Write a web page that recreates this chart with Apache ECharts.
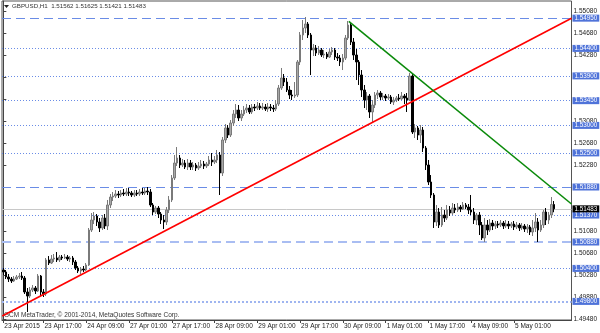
<!DOCTYPE html>
<html><head><meta charset="utf-8">
<script src="https://cdn.jsdelivr.net/npm/echarts@6/dist/echarts.min.js"></script>
<style>html,body{margin:0;padding:0;background:#fff}#c{width:600px;height:333px}</style>
</head><body><div id="c"></div>
<script>
// ---- data (GBPUSD H1, 23 Apr 2015 02:00 .. 5 May 2015 16:00) ----
const opens = [1.50371,1.50335,1.50244,1.50207,1.50171,1.50207,1.50244,1.50262,1.50225,1.49971,
1.49898,1.50007,1.50044,1.49989,1.50262,1.49971,1.49935,1.50553,1.50498,1.50571,
1.50589,1.50553,1.50607,1.50589,1.50607,1.50571,1.50589,1.50516,1.50407,1.50353,
1.50389,1.50371,1.50462,1.51098,1.51280,1.51353,1.51244,1.51135,1.51316,1.51171,
1.51553,1.51698,1.51716,1.51753,1.51735,1.51771,1.51753,1.51789,1.51771,1.51735,
1.51771,1.51753,1.51789,1.51771,1.51807,1.51789,1.51553,1.51425,1.51498,1.51389,
1.51280,1.51244,1.51462,1.51644,1.52044,1.52316,1.52407,1.52280,1.52316,1.52244,
1.52316,1.52244,1.52280,1.52225,1.52262,1.52298,1.52262,1.52298,1.52371,1.52335,
1.52371,1.52462,1.52135,1.52735,1.52953,1.52825,1.53044,1.53207,1.53280,1.53135,
1.53207,1.53280,1.53316,1.53244,1.53335,1.53316,1.53353,1.53316,1.53335,1.53298,
1.53335,1.53316,1.53298,1.53389,1.53680,1.53862,1.53789,1.53644,1.53553,1.53535,
1.53553,1.54153,1.54644,1.54771,1.54844,1.54644,1.54371,1.54407,1.54316,1.54371,
1.54280,1.54298,1.54244,1.54335,1.54371,1.54244,1.54225,1.54153,1.54225,1.54589,
1.54825,1.54516,1.54280,1.54153,1.53916,1.53644,1.53462,1.53535,1.53244,1.53371,
1.53553,1.53589,1.53516,1.53535,1.53498,1.53516,1.53425,1.53462,1.53498,1.53480,
1.53535,1.53498,1.53462,1.53898,1.52880,1.52953,1.52825,1.52916,1.52589,1.52280,
1.51971,1.51735,1.51244,1.51425,1.51189,1.51371,1.51316,1.51462,1.51407,1.51498,
1.51462,1.51516,1.51480,1.51553,1.51516,1.51462,1.51425,1.51280,1.51371,1.51189,
1.50953,1.51189,1.51098,1.51225,1.51171,1.51207,1.51189,1.51225,1.51171,1.51207,
1.51171,1.51207,1.51153,1.51189,1.51135,1.51171,1.51116,1.51153,1.51062,1.51135,
1.51244,1.51098,1.51189,1.51425,1.51280,1.51371,1.51562];
const closes = [1.50335,1.50244,1.50207,1.50171,1.50207,1.50244,1.50262,1.50225,1.49971,1.49898,
1.50007,1.50044,1.49989,1.50262,1.49971,1.49935,1.50553,1.50498,1.50571,1.50589,
1.50553,1.50607,1.50589,1.50607,1.50571,1.50589,1.50516,1.50407,1.50353,1.50389,
1.50371,1.50462,1.51098,1.51280,1.51353,1.51244,1.51135,1.51316,1.51171,1.51553,
1.51698,1.51716,1.51753,1.51735,1.51771,1.51753,1.51789,1.51771,1.51735,1.51771,
1.51753,1.51789,1.51771,1.51807,1.51789,1.51553,1.51425,1.51498,1.51389,1.51280,
1.51244,1.51462,1.51644,1.52044,1.52316,1.52407,1.52280,1.52316,1.52244,1.52316,
1.52244,1.52280,1.52225,1.52262,1.52298,1.52262,1.52298,1.52371,1.52335,1.52371,
1.52462,1.52135,1.52735,1.52953,1.52825,1.53044,1.53207,1.53280,1.53135,1.53207,
1.53280,1.53316,1.53244,1.53335,1.53316,1.53353,1.53316,1.53335,1.53298,1.53335,
1.53316,1.53298,1.53389,1.53680,1.53862,1.53789,1.53644,1.53553,1.53535,1.53553,
1.54153,1.54644,1.54771,1.54844,1.54644,1.54371,1.54407,1.54316,1.54371,1.54280,
1.54298,1.54244,1.54335,1.54371,1.54244,1.54225,1.54153,1.54225,1.54589,1.54825,
1.54516,1.54280,1.54153,1.53916,1.53644,1.53462,1.53535,1.53244,1.53371,1.53553,
1.53589,1.53516,1.53535,1.53498,1.53516,1.53425,1.53462,1.53498,1.53480,1.53535,
1.53498,1.53462,1.53898,1.52880,1.52953,1.52825,1.52916,1.52589,1.52280,1.51971,
1.51735,1.51244,1.51425,1.51189,1.51371,1.51316,1.51462,1.51407,1.51498,1.51462,
1.51516,1.51480,1.51553,1.51516,1.51462,1.51425,1.51280,1.51371,1.51189,1.50953,
1.51189,1.51098,1.51225,1.51171,1.51207,1.51189,1.51225,1.51171,1.51207,1.51171,
1.51207,1.51153,1.51189,1.51135,1.51171,1.51116,1.51153,1.51062,1.51135,1.51244,
1.51098,1.51189,1.51425,1.51280,1.51371,1.51562,1.51483];
const highs = [1.50407,1.50371,1.50298,1.50244,1.50262,1.50280,1.50316,1.50335,1.50262,1.50044,
1.50062,1.50098,1.50080,1.50298,1.50280,1.50025,1.50589,1.50625,1.50644,1.50662,
1.50698,1.50644,1.50644,1.50662,1.50644,1.50625,1.50625,1.50553,1.50444,1.50425,
1.50444,1.50498,1.51135,1.51407,1.51425,1.51389,1.51316,1.51371,1.51389,1.51644,
1.51753,1.51789,1.51825,1.51807,1.51825,1.51844,1.51862,1.51862,1.51807,1.51825,
1.51825,1.51844,1.51862,1.51862,1.51880,1.51844,1.51589,1.51535,1.51535,1.51425,
1.51371,1.51516,1.51716,1.52098,1.52462,1.52607,1.52462,1.52389,1.52371,1.52389,
1.52371,1.52335,1.52316,1.52335,1.52371,1.52353,1.52335,1.52444,1.52498,1.52444,
1.52553,1.52516,1.52789,1.53025,1.53007,1.53098,1.53280,1.53389,1.53371,1.53280,
1.53353,1.53389,1.53371,1.53389,1.53389,1.53425,1.53407,1.53407,1.53389,1.53407,
1.53389,1.53371,1.53462,1.53735,1.54044,1.53935,1.53862,1.53716,1.53644,1.53789,
1.54189,1.54698,1.54916,1.54971,1.54880,1.54680,1.54480,1.54462,1.54444,1.54407,
1.54371,1.54335,1.54389,1.54425,1.54407,1.54316,1.54280,1.54298,1.54644,1.54898,
1.54862,1.54589,1.54389,1.54189,1.54007,1.53735,1.53607,1.53571,1.53462,1.53607,
1.53644,1.53625,1.53589,1.53571,1.53571,1.53553,1.53516,1.53535,1.53571,1.53607,
1.53571,1.53589,1.53953,1.53935,1.53025,1.52989,1.53007,1.52971,1.52625,1.52371,
1.52098,1.51771,1.51553,1.51498,1.51516,1.51462,1.51553,1.51535,1.51589,1.51571,
1.51589,1.51553,1.51607,1.51589,1.51571,1.51735,1.51498,1.51407,1.51425,1.51244,
1.51316,1.51280,1.51298,1.51280,1.51262,1.51262,1.51280,1.51262,1.51280,1.51262,
1.51244,1.51262,1.51244,1.51225,1.51225,1.51207,1.51207,1.51189,1.51280,1.51407,
1.51316,1.51280,1.51462,1.51498,1.51425,1.51698,1.51625];
const lows = [1.50280,1.50207,1.50153,1.50135,1.50153,1.50189,1.50207,1.50189,1.49935,1.49607,
1.49862,1.49971,1.49935,1.49971,1.49898,1.49880,1.49898,1.50462,1.50480,1.50516,
1.50516,1.50516,1.50553,1.50571,1.50535,1.50516,1.50462,1.50371,1.50316,1.50298,
1.50335,1.50353,1.50444,1.51062,1.51207,1.51171,1.51062,1.51098,1.51116,1.51098,
1.51498,1.51625,1.51680,1.51680,1.51698,1.51716,1.51716,1.51716,1.51698,1.51698,
1.51716,1.51716,1.51735,1.51735,1.51735,1.51516,1.51371,1.51389,1.51316,1.51207,
1.51116,1.51189,1.51407,1.51607,1.52007,1.52262,1.52225,1.52244,1.52207,1.52189,
1.52189,1.52189,1.52171,1.52189,1.52225,1.52207,1.52225,1.52262,1.52262,1.52298,
1.52316,1.51735,1.52080,1.52680,1.52771,1.52789,1.52989,1.53135,1.53080,1.53080,
1.53171,1.53225,1.53207,1.53207,1.53262,1.53280,1.53280,1.53280,1.53262,1.53244,
1.53262,1.53244,1.53262,1.53353,1.53644,1.53716,1.53607,1.53480,1.53462,1.53498,
1.53516,1.54098,1.54553,1.54680,1.54589,1.53916,1.54262,1.54262,1.54280,1.54244,
1.54225,1.54207,1.54225,1.54280,1.54189,1.54171,1.54080,1.54007,1.54189,1.54553,
1.54462,1.54189,1.53825,1.53735,1.53516,1.53316,1.53280,1.53135,1.53044,1.53316,
1.53480,1.53462,1.53462,1.53444,1.53462,1.53389,1.53371,1.53425,1.53444,1.53462,
1.53389,1.53244,1.53444,1.52844,1.52771,1.52735,1.52680,1.52516,1.52189,1.51916,
1.51680,1.51135,1.51171,1.51135,1.51153,1.51244,1.51280,1.51353,1.51371,1.51407,
1.51425,1.51425,1.51462,1.51480,1.51389,1.51371,1.51207,1.51189,1.51007,1.50916,
1.50880,1.51007,1.51062,1.51098,1.51116,1.51135,1.51153,1.51116,1.51135,1.51116,
1.51135,1.51098,1.51116,1.51080,1.51098,1.51062,1.51044,1.51007,1.50989,1.51062,
1.50880,1.51062,1.51135,1.51189,1.51207,1.51316,1.51421];
const emptyBarsRight = 6;
const xTickLabels = ['23 Apr 2015','23 Apr 17:00','24 Apr 09:00','27 Apr 01:00','27 Apr 17:00','28 Apr 09:00','29 Apr 01:00','29 Apr 17:00','30 Apr 09:00','1 May 01:00','1 May 17:00','4 May 09:00','5 May 01:00'];
const yTickValues = [1.49480,1.49880,1.50280,1.50680,1.51080,1.51480,1.51880,1.52280,1.52680,1.53080,1.53480,1.53880,1.54280,1.54680,1.55080];
const yLabelValues = [1.49480,1.49880,1.50280,1.50680,1.51080,1.52280,1.52680,1.53080,1.54280,1.54680,1.55080];
const levelPrices = [1.54950,1.54400,1.53900,1.53450,1.53000,1.52500,1.51880,1.51370,1.50880,1.50400,1.49800];
const levelKinds  = ['dash','dot','dot','dot','dot','dot','dash','dot','dash2','dot','dot2'];
const bidPrice = 1.51483;
const redTrend = [[-0.4,1.49535],[212.5,1.54947]];
const greenTrend = [[129.2,1.54893],[212.5,1.51571]];
const headerText = 'GBPUSD,H1  1.51562 1.51625 1.51421 1.51483';
const footerText = 'GCM MetaTrader, \u00a9 2001-2014, MetaQuotes Software Corp.';

// ---- categories: hourly, weekdays only ----
const months = ['Jan','Feb','Mar','Apr','May','Jun','Jul','Aug','Sep','Oct','Nov','Dec'];
const cats = [];
{
  let t = Date.UTC(2015,3,23,2);
  const total = opens.length + emptyBarsRight;
  while (cats.length < total) {
    const d = new Date(t);
    const wd = d.getUTCDay();
    if (wd !== 0 && wd !== 6) {
      const hh = String(d.getUTCHours()).padStart(2,'0');
      cats.push(d.getUTCDate() + ' ' + months[d.getUTCMonth()] + ' ' + hh + ':00');
    }
    t += 3600000;
  }
}
const candleData = opens.map((o,i)=>[o, closes[i], lows[i], highs[i]]);
const showIdx = new Set();
cats.forEach((c,i)=>{ if (i===0 || xTickLabels.indexOf(c) >= 0) showIdx.add(i); });

const FONT = 'Liberation Sans';
const lvlColor = '#6a8ce6';
function levelLine(p, kind) {
  let ls;
  if (kind === 'dash') ls = {color: lvlColor, width: 1, type: [9,5]};
  else if (kind === 'dash2') ls = {color: '#a9bdf2', width: 2, type: [9,5]};
  else if (kind === 'dot2') ls = {color: '#9fb5f0', width: 2, type: [2,2]};
  else ls = {color: lvlColor, width: 1, type: [1,2]};
  return {yAxis: p, lineStyle: ls,
    label: {show: true, position: 'end', distance: 1, formatter: p.toFixed(5),
      backgroundColor: '#4f73d9', color: '#fff', fontSize: 6.3, lineHeight: 7, fontFamily: FONT,
      padding: [0,2,0,2]}};
}
const markData = levelPrices.map((p,i)=>levelLine(p, levelKinds[i]));
markData.push({yAxis: bidPrice, lineStyle: {color: '#c8c8c8', width: 1, type: 'solid'},
  label: {show: true, position: 'end', distance: 1, formatter: bidPrice.toFixed(5),
    backgroundColor: '#000', color: '#fff', fontSize: 6.3, lineHeight: 7, fontFamily: FONT, padding: [0,2,0,2]}});

const chart = echarts.init(document.getElementById('c'), null, {renderer: 'canvas'});
chart.setOption({
  animation: false,
  backgroundColor: '#ffffff',
  textStyle: {fontFamily: FONT},
  grid: {left: 2, right: 28, top: 1, bottom: 13, show: true, borderColor: '#555', borderWidth: 1},
  xAxis: [{
    type: 'category', data: cats, boundaryGap: true,
    axisLine: {show: true, lineStyle: {color: '#444'}},
    axisTick: {show: true, alignWithLabel: true, length: 3, interval: (i)=>showIdx.has(i), lineStyle: {color: '#444'}},
    axisLabel: {interval: (i)=>showIdx.has(i), formatter: (v,i)=> i===0 ? xTickLabels[0] : v,
      align: 'left', margin: 3, fontSize: 6.5, color: '#222', fontFamily: FONT, padding: [0,0,0,1]},
    splitLine: {show: false}
  },{
    type: 'value', min: -0.5, max: opens.length + emptyBarsRight - 0.5, show: false
  }],
  yAxis: [{
    type: 'value', position: 'right', min: 1.49462, max: 1.55262, scale: true,
    axisLine: {show: true, lineStyle: {color: '#444'}},
    axisTick: {show: true, length: 3, customValues: yTickValues, lineStyle: {color: '#444'}},
    axisLabel: {customValues: yLabelValues, formatter: (v)=>v.toFixed(5), fontSize: 6.5, color: '#222', fontFamily: FONT, margin: 2},
    splitLine: {show: false}
  }],
  series: [{
    type: 'candlestick', data: candleData, xAxisIndex: 0, yAxisIndex: 0,
    barWidth: 2,
    itemStyle: {color: '#a8a8a8', color0: '#000000', borderColor: '#7a7a7a', borderColor0: '#000000', borderWidth: 1},
    markLine: {silent: true, precision: 5, symbol: ['none','none'], animation: false, data: markData, z: 1}
  },{
    type: 'line', xAxisIndex: 1, yAxisIndex: 0, data: redTrend, symbol: 'none',
    lineStyle: {color: '#ff0000', width: 1.6}, z: 5
  },{
    type: 'line', xAxisIndex: 1, yAxisIndex: 0, data: greenTrend, symbol: 'none',
    lineStyle: {color: '#0a8a0a', width: 1.6}, z: 5
  }],
  graphic: [
    {type: 'polygon', shape: {points: [[4,5],[9,5],[6.5,8]]}, style: {fill: '#222'}, z: 10},
    {type: 'text', left: 12, top: 3, style: {text: headerText, fontSize: 6.2, fill: '#333', fontFamily: FONT}, z: 10},
    {type: 'text', left: 4, top: 312, style: {text: footerText, fontSize: 6.5, fill: '#333', fontFamily: FONT}, z: 1}
  ]
});
</script></body></html>
